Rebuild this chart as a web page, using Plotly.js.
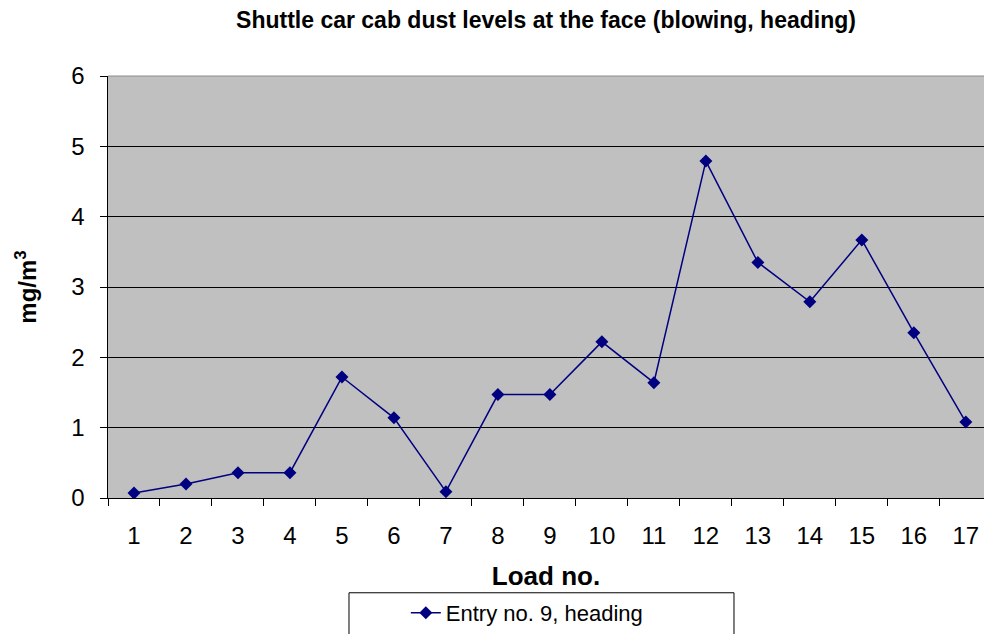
<!DOCTYPE html>
<html>
<head>
<meta charset="utf-8">
<script src="https://cdn.plot.ly/plotly-3.0.1.min.js"></script>
<style>
  html, body { margin: 0; padding: 0; background: #fff; overflow: hidden; }
  #chart { width: 984px; height: 634px; }
</style>
</head>
<body>
<div id="chart"></div>
<script>
// Shuttle car cab dust levels, entry no. 9
const loads = ["1", "2", "3", "4", "5", "6", "7", "8", "9", "10", "11", "12", "13", "14", "15", "16", "17"];
const dust = [0.07, 0.2, 0.36, 0.36, 1.72, 1.14, 0.09, 1.47, 1.47, 2.22, 1.64, 4.79, 3.35, 2.79, 3.67, 2.35, 1.08];
const seriesName = "Entry no. 9, heading";

const font = "Liberation Sans, Arial, sans-serif";

Plotly.newPlot("chart", [{
  x: loads,
  y: dust,
  name: seriesName,
  type: "scatter",
  mode: "lines+markers",
  line: { color: "#000080", width: 1.5 },
  marker: { symbol: "diamond", size: 10, color: "#000080" }
}], {
  width: 984,
  height: 634,
  title: {
    text: "<b>Shuttle car cab dust levels at the face (blowing, heading)</b>",
    font: { family: font, size: 23, color: "#000" },
    x: 0.5, xref: "paper",
    y: 0.968, yref: "container", yanchor: "middle"
  },
  xaxis: {
    type: "category",
    range: [-0.5, 16.35],
    showline: true,
    linecolor: "#000",
    linewidth: 1,
    ticks: "outside",
    tickson: "boundaries",
    ticklen: 7,
    tickcolor: "#000",
    showgrid: false,
    ticklabelstandoff: 16,
    tickfont: { family: font, size: 24, color: "#000" },
    title: {
      text: "<b>Load no.</b>",
      font: { family: font, size: 26, color: "#000" },
      standoff: 19
    },
    automargin: false
  },
  yaxis: {
    range: [0, 6],
    dtick: 1,
    showline: true,
    linecolor: "#000",
    linewidth: 1.5,
    ticks: "outside",
    ticklen: 7,
    tickcolor: "#000",
    gridcolor: "#000",
    gridwidth: 1,
    zeroline: false,
    ticklabelstandoff: 10,
    tickfont: { family: font, size: 24, color: "#000" },
    title: {
      text: "<b>mg/m<sup>3</sup></b>",
      font: { family: font, size: 24, color: "#000" },
      standoff: 28
    },
    automargin: false
  },
  showlegend: true,
  legend: {
    x: 0.34, xanchor: "left",
    y: -0.274, yanchor: "middle",
    bgcolor: "rgba(0,0,0,0)",
    borderwidth: 0,
    font: { family: font, size: 22, color: "#000" }
  },
  shapes: [
    { type: "rect", xref: "paper", yref: "paper", x0: 0.2751, x1: 0.7146, y0: -0.2246, y1: -0.40,
      line: { color: "#000", width: 1 }, fillcolor: "rgba(0,0,0,0)" },
    { type: "line", xref: "paper", yref: "paper", x0: 0, x1: 1, y0: 1, y1: 1,
      line: { color: "#8c8c8c", width: 1 } }
  ],
  plot_bgcolor: "#c0c0c0",
  paper_bgcolor: "#fff",
  font: { family: font, color: "#000" },
  margin: { l: 108, r: 0, t: 76, b: 135 }
}, { displayModeBar: false, staticPlot: true });
</script>
</body>
</html>
